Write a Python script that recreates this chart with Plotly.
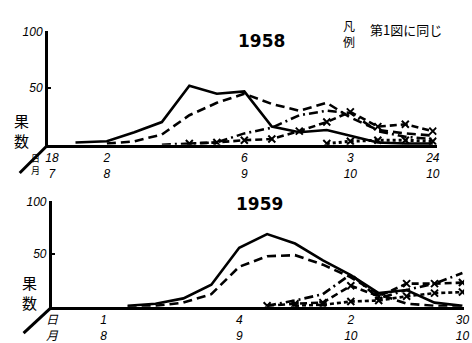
import plotly.graph_objects as go

# ---------------- data ----------------
dates_1958 = ["1958-07-25", "1958-08-02", "1958-08-09", "1958-08-16", "1958-08-23",
              "1958-08-30", "1958-09-06", "1958-09-13", "1958-09-20", "1958-09-27",
              "1958-10-03", "1958-10-10", "1958-10-17", "1958-10-24"]
s58_solid   = [2, 3, 11, 20, 52, 45, 47, 16, 11, 13, 8, 2, 1, 1]
s58_dash    = [None, 1, 3, 9, 26, 37, 45, 36, 30, 37, 24, 13, 10, 8]
s58_dashdot = [None, None, None, 0, 1, 2, 10, 15, 26, 30, 28, 12, 7, 5]
s58_xline   = [None, None, None, None, 1, 2, 4, 5, 12, 20, 29, 16, 18, 12]
s58_xlow    = [None, None, None, None, None, None, None, None, None, 1, 3, 4, 4, 3]

dates_1959 = ["1959-08-07", "1959-08-14", "1959-08-21", "1959-08-28", "1959-09-04",
              "1959-09-11", "1959-09-18", "1959-09-25", "1959-10-02", "1959-10-09",
              "1959-10-16", "1959-10-23", "1959-10-30"]
s59_solid   = [1, 3, 8, 21, 56, 69, 60, 44, 30, 13, 16, 4, 1]
s59_dash    = [0, 1, 4, 12, 38, 48, 49, 40, 28, 12, 3, 1, 0]
s59_dashdot = [None, None, None, None, None, 1, 6, 12, 31, 8, 16, 22, 32]
s59_xline   = [None, None, None, None, None, 1, 3, 4, 20, 10, 22, 22, 23]
s59_xlow    = [None, None, None, None, None, None, 1, 2, 5, 6, 10, 13, 14]

ticks58_vals = ["1958-07-19", "1958-08-02", "1958-09-06", "1958-10-03", "1958-10-24"]
ticks58_text = ["18<br>7", "2<br>8", "6<br>9", "3<br>10", "24<br>10"]
ticks59_vals = ["1959-07-19", "1959-08-01", "1959-09-04", "1959-10-02", "1959-10-30"]
ticks59_text = ["日<br>月", "1<br>8", "4<br>9", "2<br>10", "30<br>10"]
ytick_vals = [50, 100]
ytick_text = ["50", "100"]

W, H = 472, 343
BLACK = "black"

fig = go.Figure()


def add_series(x, y, dash, xa, ya, marker=False, width=2.6):
    fig.add_trace(go.Scatter(
        x=x, y=y, mode="lines+markers" if marker else "lines",
        line=dict(color=BLACK, width=width, dash=dash),
        marker=dict(symbol="x-thin-open", size=7, color=BLACK,
                    line=dict(color=BLACK, width=2)) if marker else None,
        connectgaps=False, showlegend=False, xaxis=xa, yaxis=ya))


# 1958
add_series(dates_1958, s58_solid, "solid", "x", "y")
add_series(dates_1958, s58_dash, "9px,5px", "x", "y")
add_series(dates_1958, s58_dashdot, "9px,4px,2px,4px", "x", "y")
add_series(dates_1958, s58_xline, "7px,4px", "x", "y", marker=True)
add_series(dates_1958, s58_xlow, "3px,3px", "x", "y", marker=True, width=3)

# 1959
add_series(dates_1959, s59_solid, "solid", "x2", "y2")
add_series(dates_1959, s59_dash, "9px,5px", "x2", "y2")
add_series(dates_1959, s59_dashdot, "9px,4px,2px,4px", "x2", "y2")
add_series(dates_1959, s59_xline, "7px,4px", "x2", "y2", marker=True)
add_series(dates_1959, s59_xlow, "4px,3px", "x2", "y2", marker=True)

tickfont = dict(family="Liberation Sans, Noto Sans CJK JP", size=12, color=BLACK, style="italic")

xcommon = dict(type="date", showgrid=False, zeroline=False, showline=True,
               linecolor=BLACK, linewidth=3, ticks="", tickfont=tickfont)
ycommon = dict(range=[0, 100], showgrid=False, zeroline=False, showline=True,
               linecolor=BLACK, linewidth=3, ticks="inside", ticklen=3, tickwidth=2,
               tickcolor=BLACK, tickvals=ytick_vals, ticktext=ytick_text,
               tickfont=tickfont)

fig.update_layout(
    width=W, height=H,
    margin=dict(l=0, r=0, t=0, b=0),
    paper_bgcolor="white", plot_bgcolor="white",
    xaxis=dict(xcommon, domain=[43 / W, 441 / W], range=["1958-07-18", "1958-10-25"],
               tickvals=ticks58_vals, ticktext=ticks58_text, anchor="y"),
    yaxis=dict(ycommon, domain=[1 - 141 / H, 1 - 25 / H], anchor="x"),
    xaxis2=dict(xcommon, domain=[47 / W, 469 / W], range=["1959-07-19", "1959-10-30 10:00"],
                tickvals=ticks59_vals, ticktext=ticks59_text, anchor="y2"),
    yaxis2=dict(ycommon, domain=[1 - 307 / H, 1 - 199 / H], anchor="x2"),
)

def ann(text, px, py, size, bold=False, family="DejaVu Sans, Noto Sans CJK JP",
        xanchor="center"):
    fig.add_annotation(text=text, x=px / W, y=1 - py / H, xref="paper", yref="paper",
                       showarrow=False, xanchor=xanchor, yanchor="middle",
                       font=dict(family=family, size=size, color=BLACK,
                                 weight="bold" if bold else "normal"))

ann("1958", 262, 35, 17, bold=True)
ann("1959", 260, 202, 17, bold=True)
ann("凡<br>例", 351, 27, 12, family="Noto Sans CJK JP")
ann("第1図に同じ", 371, 23, 13, family="Noto Sans CJK JP", xanchor="left")
ann("果<br>数", 16, 126, 15, family="Noto Sans CJK JP")
ann("果<br>数", 24, 292, 15, family="Noto Sans CJK JP")
ann("日<br>月", 30, 161, 9, family="Noto Sans CJK JP")

# depth strokes from each origin (decoration)
fig.add_shape(type="line", xref="paper", yref="paper",
              x0=43 / W, y0=1 - 141 / H, x1=14 / W, y1=1 - 170 / H,
              line=dict(color=BLACK, width=3))
fig.add_shape(type="line", xref="paper", yref="paper",
              x0=47 / W, y0=1 - 307 / H, x1=18 / W, y1=1 - 334 / H,
              line=dict(color=BLACK, width=3))

fig.write_html("out.html")
